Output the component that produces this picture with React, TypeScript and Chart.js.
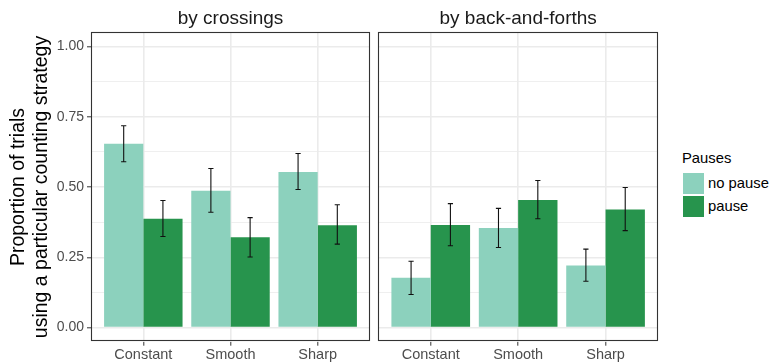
import { useEffect, useRef } from "react";
import { Chart, registerables } from "chart.js";

Chart.register(...registerables);

const FONT = "'Liberation Sans', Arial, Helvetica, sans-serif";

const categories = ["Constant", "Smooth", "Sharp"];
const seriesNames = ["no pause", "pause"];
const seriesColors = ["#8CD1BD", "#27944D"];
const panelTitles = ["by crossings", "by back-and-forths"];
const legendTitle = "Pauses";
const yTitle = ["Proportion of trials", "using a particular counting strategy"];

// Panel "by crossings": bar heights and error-bar limits
const crossNoPause = [0.654, 0.487, 0.553];
const crossNoPauseLow = [0.59, 0.41, 0.491];
const crossNoPauseHigh = [0.718, 0.566, 0.619];
const crossPause = [0.387, 0.321, 0.364];
const crossPauseLow = [0.324, 0.251, 0.297];
const crossPauseHigh = [0.452, 0.391, 0.437];

// Panel "by back-and-forths"
const backNoPause = [0.177, 0.354, 0.221];
const backNoPauseLow = [0.118, 0.285, 0.165];
const backNoPauseHigh = [0.236, 0.424, 0.279];
const backPause = [0.365, 0.454, 0.42];
const backPauseLow = [0.291, 0.387, 0.345];
const backPauseHigh = [0.441, 0.523, 0.498];

// y-axis: labelled major ticks and unlabelled minor gridlines
const yMajorTicks = [0, 0.25, 0.5, 0.75, 1];
const yTickLabels = ["0.00", "0.25", "0.50", "0.75", "1.00"];
const yMinorTicks = [0.125, 0.375, 0.625, 0.875];

const GRID = "#EBEBEB";
const DARK = "#333333";
const TICK_TEXT = "#4D4D4D";

type PanelSpec = {
  title: string;
  values: number[][];
  lows: number[][];
  highs: number[][];
  withYAxis: boolean;
  padding: { left: number; right: number; top: number; bottom: number };
};

const isMajor = (v: number) => yMajorTicks.some((m) => Math.abs(m - v) < 1e-9);

const panelPlugin = {
  id: "panelDecor",
  afterDatasetsDraw(chart: any) {
    const { ctx, chartArea } = chart;
    const yScale = chart.scales.y;
    const ds = chart.data.datasets;
    ctx.save();
    // error bars
    ds.forEach((d: any, i: number) => {
      const meta = chart.getDatasetMeta(i);
      meta.data.forEach((bar: any, j: number) => {
        const x = bar.x;
        const yLo = yScale.getPixelForValue(d.errLow[j]);
        const yHi = yScale.getPixelForValue(d.errHigh[j]);
        ctx.strokeStyle = "#111111";
        ctx.lineWidth = 1.1;
        ctx.beginPath();
        ctx.moveTo(x, yLo);
        ctx.lineTo(x, yHi);
        ctx.moveTo(x - 2.6, yLo);
        ctx.lineTo(x + 2.6, yLo);
        ctx.moveTo(x - 2.6, yHi);
        ctx.lineTo(x + 2.6, yHi);
        ctx.stroke();
      });
    });
    // panel border
    ctx.strokeStyle = DARK;
    ctx.lineWidth = 1.1;
    ctx.strokeRect(
      Math.round(chartArea.left) + 0.5,
      Math.round(chartArea.top) + 0.5,
      Math.round(chartArea.right - chartArea.left) - 1,
      Math.round(chartArea.bottom - chartArea.top) - 1
    );
    ctx.restore();
  },
  afterDraw(chart: any) {
    const { ctx, chartArea } = chart;
    const title = chart.options.plugins.panelDecor?.title ?? "";
    ctx.save();
    ctx.font = `19px ${FONT}`;
    ctx.fillStyle = "#1A1A1A";
    ctx.textAlign = "center";
    ctx.textBaseline = "middle";
    ctx.fillText(title, (chartArea.left + chartArea.right) / 2, chartArea.top - 14);
    ctx.restore();
  },
};

function Panel({ spec, left, width }: { spec: PanelSpec; left: number; width: number }) {
  const ref = useRef<HTMLCanvasElement | null>(null);
  useEffect(() => {
    if (!ref.current) return;
    const chart = new Chart(ref.current, {
      type: "bar",
      data: {
        datasets: seriesNames.map((name, s) => ({
          label: name,
          data: spec.values[s].map((v, i) => ({ x: i + 1, y: v })),
          errLow: spec.lows[s],
          errHigh: spec.highs[s],
          backgroundColor: seriesColors[s],
          borderWidth: 0,
          categoryPercentage: 0.9,
          barPercentage: 1.0,
        })) as any,
      },
      options: {
        responsive: false,
        animation: false,
        devicePixelRatio: 1,
        layout: { padding: spec.padding },
        plugins: {
          legend: { display: false },
          tooltip: { enabled: false },
          title: { display: false },
          panelDecor: { title: spec.title },
        } as any,
        scales: {
          x: {
            type: "linear",
            min: 0.4,
            max: 3.6,
            offset: false,
            afterBuildTicks: (scale: any) => {
              scale.ticks = categories.map((_, i) => ({ value: i + 1 }));
            },
            afterFit: (scale: any) => {
              scale.height = 20.3;
            },
            grid: {
              offset: false,
              color: GRID,
              lineWidth: 1.6,
              tickColor: DARK,
              tickLength: 4,
              tickWidth: 1,
            },
            border: { display: false },
            ticks: {
              autoSkip: false,
              maxRotation: 0,
              padding: 1,
              color: TICK_TEXT,
              font: { size: 14.5, family: FONT },
              callback: (v: any) => categories[Math.round(Number(v)) - 1] ?? "",
            },
          },
          y: {
            type: "linear",
            min: -0.05,
            max: 1.05,
            afterBuildTicks: (scale: any) => {
              scale.ticks = [...yMajorTicks, ...yMinorTicks]
                .sort((a, b) => a - b)
                .map((v) => ({ value: v }));
            },
            afterFit: (scale: any) => {
              scale.width = spec.withYAxis ? 91 : 0;
            },
            grid: {
              color: GRID,
              lineWidth: (c: any) => (isMajor(c.tick?.value) ? 1.6 : 0.8),
              tickColor: (c: any) => (isMajor(c.tick?.value) ? DARK : "rgba(0,0,0,0)"),
              tickLength: 4,
              tickWidth: 1,
              drawTicks: spec.withYAxis,
            },
            border: { display: false },
            ticks: {
              display: spec.withYAxis,
              autoSkip: false,
              padding: 3,
              color: TICK_TEXT,
              font: { size: 14, family: FONT },
              callback: (v: any) => {
                const idx = yMajorTicks.findIndex((m) => Math.abs(m - Number(v)) < 1e-9);
                return idx >= 0 ? yTickLabels[idx] : "";
              },
            },
            title: {
              display: spec.withYAxis,
              text: yTitle,
              color: "#000000",
              font: { size: 19.5, family: FONT, lineHeight: 1.17 },
              padding: { top: 7, bottom: 0 },
            },
          },
        },
      } as any,
      plugins: [panelPlugin],
    });
    return () => chart.destroy();
  }, [spec]);
  return (
    <canvas
      ref={ref}
      width={width}
      height={362}
      style={{ position: "absolute", left, top: 0, width, height: 362 }}
    />
  );
}

const leftSpec: PanelSpec = {
  title: panelTitles[0],
  values: [crossNoPause, crossPause],
  lows: [crossNoPauseLow, crossPauseLow],
  highs: [crossNoPauseHigh, crossPauseHigh],
  withYAxis: true,
  padding: { left: 0, right: 4, top: 32.3, bottom: 0 },
};

const rightSpec: PanelSpec = {
  title: panelTitles[1],
  values: [backNoPause, backPause],
  lows: [backNoPauseLow, backPauseLow],
  highs: [backNoPauseHigh, backPauseHigh],
  withYAxis: false,
  padding: { left: 4.3, right: 6, top: 32.3, bottom: 0 },
};

export default function App() {
  return (
    <div
      style={{
        position: "fixed",
        left: 0,
        top: 0,
        width: 772,
        height: 362,
        background: "#FFFFFF",
        overflow: "hidden",
        fontFamily: FONT,
      }}
    >
      <Panel spec={leftSpec} left={0} width={374} />
      <Panel spec={rightSpec} left={374} width={290} />
      <div style={{ position: "absolute", left: 682, top: 150, fontSize: 14.8, color: "#000", lineHeight: "17px" }}>
        {legendTitle}
      </div>
      {seriesNames.map((name, i) => (
        <div key={name}>
          <div
            style={{
              position: "absolute",
              left: 682.7,
              top: 172.7 + i * 23.3,
              width: 21.6,
              height: 21.3,
              background: seriesColors[i],
            }}
          />
          <div
            style={{
              position: "absolute",
              left: 708,
              top: 174.5 + i * 23.3,
              fontSize: 14.8,
              lineHeight: "17px",
              color: "#000",
              whiteSpace: "nowrap",
            }}
          >
            {name}
          </div>
        </div>
      ))}
    </div>
  );
}
